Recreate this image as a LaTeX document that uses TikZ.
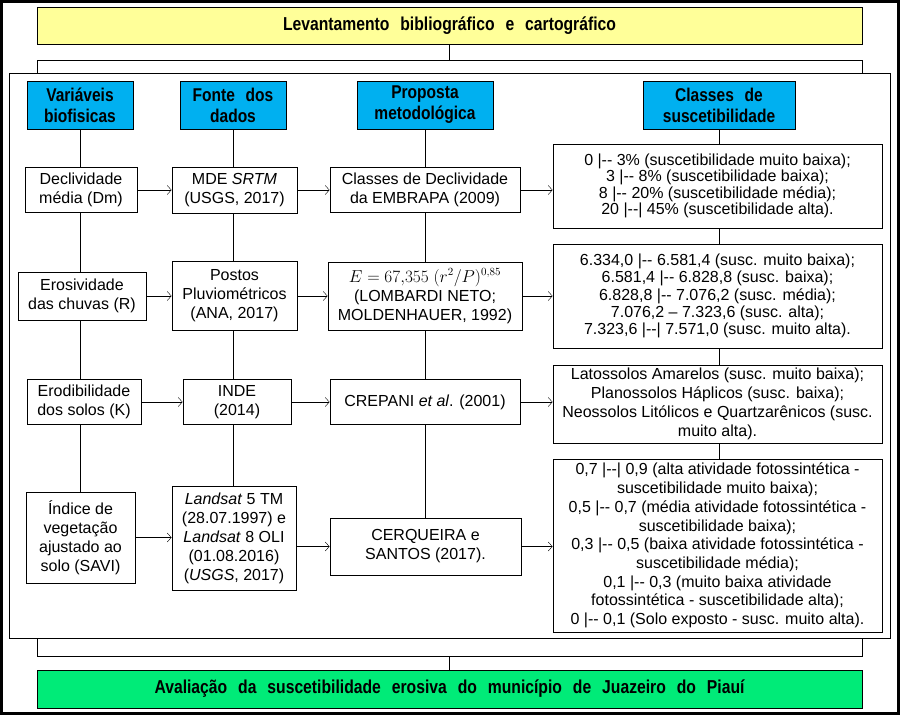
\documentclass[tikz,border=0pt]{standalone}
\usepackage{fontspec}
\setmainfont{Liberation Sans}
\newfontfamily\narrowfont[FakeStretch=0.84,WordSpace=1.3]{Liberation Sans}
\newfontfamily\titlefont[FakeStretch=0.84,WordSpace=2.5]{Liberation Sans}
\usetikzlibrary{arrows.meta,backgrounds}
\definecolor{levyellow}{RGB}{255,255,153}
\definecolor{avalgreen}{RGB}{0,235,120}
\definecolor{hdrblue}{RGB}{0,176,240}
\newcommand{\ivlo}{|-{}-}
\newcommand{\ivlc}{|-{}-|}
\tikzset{
  hdr/.style={draw, fill=hdrblue, align=center, minimum height=48pt, inner sep=2pt,
    font=\narrowfont\bfseries\fontsize{18.5}{21}\selectfont},
  bx/.style={draw, fill=white, align=center, inner sep=2pt, font=\fontsize{16}{19}\selectfont},
  titlebox/.style={draw, minimum width=825pt, inner sep=2pt,
    font=\titlefont\bfseries\fontsize{18.7}{21}\selectfont},
  arr/.style={-{Straight Barb[length=4pt,width=9pt]}}
}

\begin{document}
\begin{tikzpicture}[x=1pt,y=-1pt,line width=0.9pt]
\useasboundingbox (0,0) rectangle (900,715);
\draw[line width=3pt] (1.5,1.5) rectangle (898.5,713.5);

\node[titlebox, fill=levyellow, minimum height=37pt] (lev) at (449.5,25.5) {Levantamento bibliográfico e cartográfico};
\node[draw, minimum width=881pt, minimum height=565pt] (quadro) at (449.5,355.5) {};
\node[titlebox, fill=avalgreen, minimum height=38pt] (aval) at (449.5,689) {Avaliação da suscetibilidade erosiva do município de Juazeiro do Piauí};

\coordinate (ce) at (37,60);
\coordinate (cd) at (862,60);
\coordinate (be) at (37,656);
\coordinate (bd) at (862,656);
\draw (lev) -- (lev.south |- ce);
\draw (ce |- quadro.north) -- (ce) -- (cd) -- (cd |- quadro.north);
\draw (be |- quadro.south) -- (be) -- (bd) -- (bd |- quadro.south);
\draw (aval) -- (aval.north |- be);

\begin{scope}[every node/.style={hdr}]
  \node[minimum width=106pt] (var) at (80,105) {Variáveis\\biofisicas};
  \node[minimum width=106pt] (fon) at (233,105) {Fonte dos\\dados};
  \node[minimum width=136pt] (pro) at (425,105) {Proposta\\metodológica};
  \node[minimum width=152pt] (cla) at (719,105) {Classes de\\suscetibilidade};
\end{scope}

\begin{scope}[every node/.style={bx}]
  \node[minimum width=112pt, minimum height=45pt] (dm) at (81,190) {Declividade\\média (Dm)};
  \node[minimum width=128pt, minimum height=48pt] (er) at (82,296) {Erosividade\\das chuvas (R)};
  \node[minimum width=114pt, minimum height=45pt] (erod) at (84,402) {Erodibilidade\\dos solos (K)};
  \node[minimum width=109pt, minimum height=91pt] (sav) at (80.5,537.5) {Índice de\\vegetação\\ajustado ao\\solo (SAVI)};

  \node[minimum width=125pt, minimum height=46pt] (mde) at (234.5,190) {MDE \textit{SRTM}\\(USGS, 2017)};
  \node[minimum width=125pt, minimum height=69pt] (pos) at (234.5,296) {Postos\\Pluviométricos\\(ANA, 2017)};
  \node[minimum width=108pt, minimum height=45pt] (inde) at (237,402) {INDE\\(2014)};
  \node[minimum width=124pt, minimum height=104pt] (lst) at (234,538) {\textit{Landsat} 5 TM\\(28.07.1997) e\\\textit{Landsat} 8 OLI\\(01.08.2016)\\(\textit{USGS}, 2017)};

  \node[minimum width=190pt, minimum height=45pt] (emb) at (425,190) {Classes de Declividade\\da EMBRAPA (2009)};
  \node[minimum width=194pt, minimum height=68pt] (frm) at (425,296) {$E = 67{,}355\;(r^2/P)^{0{,}85}$\\(LOMBARDI NETO;\\MOLDENHAUER, 1992)};
  \node[minimum width=190pt, minimum height=45pt] (crp) at (425,402) {CREPANI \textit{et al}. (2001)};
  \node[minimum width=191pt, minimum height=57pt] (cer) at (425.5,546.5) {CERQUEIRA e\\SANTOS (2017).};

  \node[minimum width=329pt, minimum height=84pt, font=\fontsize{16}{16.3}\selectfont] (c1) at (717.5,186)
    {0 \ivlo{} 3\% (suscetibilidade muito baixa);\\3 \ivlo{} 8\% (suscetibilidade baixa);\\8 \ivlo{} 20\% (suscetibilidade média);\\20 \ivlc{} 45\% (suscetibilidade alta).};
  \node[minimum width=329pt, minimum height=104pt, font=\fontsize{16}{17.2}\selectfont] (c2) at (717.5,296)
    {6.334,0 \ivlo{} 6.581,4 (susc. muito baixa);\\6.581,4 \ivlo{} 6.828,8 (susc. baixa);\\6.828,8 \ivlo{} 7.076,2 (susc. média);\\7.076,2 -- 7.323,6 (susc. alta);\\7.323,6 \ivlc{} 7.571,0 (susc. muito alta).};
  \node[minimum width=329pt, minimum height=78pt] (c3) at (717.5,404)
    {Latossolos Amarelos (susc. muito baixa);\\Planossolos Háplicos (susc. baixa);\\Neossolos Litólicos e Quartzarênicos (susc.\\muito alta).};
  \node[minimum width=329pt, minimum height=173pt, font=\fontsize{16}{18.7}\selectfont] (c4) at (717.5,545.5)
    {0,7 \ivlc{} 0,9 (alta atividade fotossintética -\\suscetibilidade muito baixa);\\0,5 \ivlo{} 0,7 (média atividade fotossintética -\\suscetibilidade baixa);\\0,3 \ivlo{} 0,5 (baixa atividade fotossintética -\\suscetibilidade média);\\0,1 \ivlo{} 0,3 (muito baixa atividade\\fotossintética - suscetibilidade alta);\\0 \ivlo{} 0,1 (Solo exposto - susc. muito alta).};
\end{scope}

\begin{pgfonlayer}{background}
  \draw (var) -- (var.south |- sav.north);
  \draw (fon) -- (fon.south |- lst.north);
  \draw (pro) -- (pro.south |- cer.north);
  \draw (cla) -- (cla.south |- c4.north);
\end{pgfonlayer}

\begin{scope}[every edge/.style={draw, arr}]
  \path (dm) edge (mde);
  \path (mde) edge (emb);
  \path (emb.east) edge (emb.east -| c1.west);
  \path (er) edge (pos);
  \path (pos) edge (frm);
  \path (frm) edge (c2);
  \path (erod) edge (inde);
  \path (inde) edge (crp);
  \path (crp.east) edge (crp.east -| c3.west);
  \path (sav.east) edge (sav.east -| lst.west);
  \path (lst.east |- cer.west) edge (cer.west);
  \path (cer.east) edge (cer.east -| c4.west);
\end{scope}
\end{tikzpicture}
\end{document}
